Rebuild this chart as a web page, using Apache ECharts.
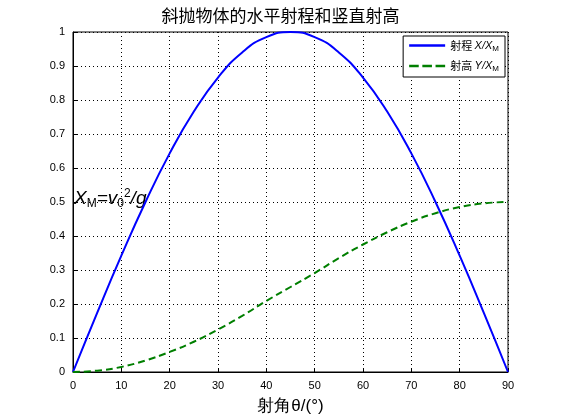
<!DOCTYPE html>
<html><head><meta charset="utf-8">
<script src="https://cdn.jsdelivr.net/npm/echarts@6/dist/echarts.min.js"></script>
<style>body{margin:0;background:#fff}#c{width:561px;height:420px}</style>
</head><body><div id="c"></div>
<script>
var angles = [0,5,10,15,20,25,30,35,40,45,50,55,60,65,70,75,80,85,90];
var rangeRatio = [0,0.174,0.342,0.5,0.643,0.766,0.866,0.94,0.985,1,0.985,0.94,0.866,0.766,0.643,0.5,0.342,0.174,0];
var heightRatio = [0,0.004,0.015,0.034,0.059,0.089,0.125,0.165,0.209,0.25,0.291,0.335,0.375,0.411,0.442,0.467,0.485,0.496,0.5];

function pairs(v){ return angles.map(function(a,i){ return [a, v[i]]; }); }

var chart = echarts.init(document.getElementById("c"));
var axisCommon = {
  axisLine: { show: true, lineStyle: { color: "#000" } },
  axisTick: { inside: true, length: 4, lineStyle: { color: "#000" } },
  axisLabel: { color: "#000", fontSize: 11, fontFamily: "Liberation Sans" },
  splitLine: { show: true, lineStyle: { color: "#000", type: [1, 3], width: 1 } }
};
chart.setOption({
  animation: false,
  title: {
    text: "斜抛物体的水平射程和竖直射高", left: "center", top: 2,
    textStyle: { fontSize: 17, fontWeight: "normal", color: "#000", fontFamily: "Noto Sans CJK SC" }
  },
  grid: { left: 73, right: 53, top: 32, bottom: 48, show: true, borderColor: "#000", borderWidth: 1 },
  legend: {
    right: 56, top: 36, orient: "vertical", backgroundColor: "#fff", borderColor: "#000", borderWidth: 1,
    padding: [4, 6], itemWidth: 36, itemGap: 8,
    textStyle: { fontSize: 11, color: "#000", rich: {
      c: { fontSize: 11, fontFamily: "Noto Sans CJK SC" },
      i: { fontSize: 11, fontStyle: "italic", fontFamily: "Liberation Sans" },
      s: { fontSize: 8, fontFamily: "Liberation Sans", padding: [6, 0, 0, 0] }
    } },
    data: [
      { name: "射程X/XM", icon: "path://M0,0H30V2H0Z" },
      { name: "射高Y/XM", icon: "path://M0,0H8V2H0ZM11,0H19V2H11ZM22,0H30V2H22Z" }
    ],
    formatter: function (n) {
      return "{c|" + n.slice(0, 2) + " }{i|" + n.slice(2, 5) + "}{s|M}";
    }
  },
  xAxis: Object.assign({ type: "value", min: 0, max: 90, interval: 10,
    name: "射角θ/(°)", nameLocation: "middle", nameGap: 26,
    nameTextStyle: { fontSize: 17, color: "#000" } }, axisCommon),
  yAxis: Object.assign({ type: "value", min: 0, max: 1, interval: 0.1 }, axisCommon),
  graphic: [{
    type: "text", left: 74, top: 188,
    style: { text: "{a|X}{s|M}{a|=v}{s|0}{t|2}{a|/g}", rich: {
      a: { fontSize: 19, fontFamily: "Liberation Sans", fontStyle: "italic", fill: "#000" },
      s: { fontSize: 12, fontFamily: "Liberation Sans", fill: "#000", padding: [10, 0, 0, 0] },
      t: { fontSize: 12, fontFamily: "Liberation Sans", fill: "#000", padding: [0, 0, 10, 0] }
    } }
  }],
  series: [
    { name: "射程X/XM", type: "line", smooth: true, showSymbol: false, data: pairs(rangeRatio),
      lineStyle: { color: "#0000ff", width: 2 }, itemStyle: { color: "#0000ff" } },
    { name: "射高Y/XM", type: "line", smooth: true, showSymbol: false, data: pairs(heightRatio),
      lineStyle: { color: "#007f00", width: 2, type: [7, 4] }, itemStyle: { color: "#007f00" } }
  ]
});
</script></body></html>
